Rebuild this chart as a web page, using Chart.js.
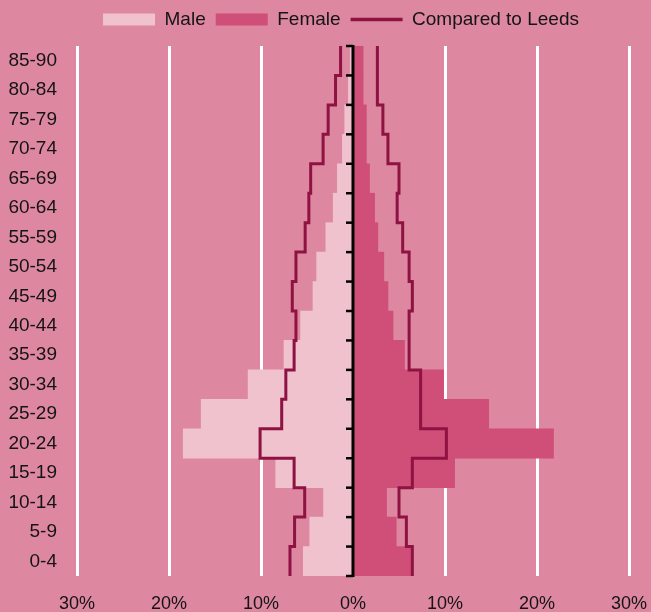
<!DOCTYPE html>
<html><head><meta charset="utf-8">
<script src="https://cdn.jsdelivr.net/npm/chart.js@4"></script>
<style>html,body{margin:0;padding:0;background:#DE87A0;} #wrap{width:651px;height:612px;position:relative;}</style>
</head><body><div id="wrap"><canvas id="c"></canvas></div>
<script>
const ageGroups = ['0-4','5-9','10-14','15-19','20-24','25-29','30-34','35-39','40-44','45-49','50-54','55-59','60-64','65-69','70-74','75-79','80-84','85-90'];
const malePct = [5.4, 4.7, 3.2, 8.4, 18.45, 16.5, 11.4, 7.5, 5.7, 4.35, 3.95, 2.95, 2.15, 1.7, 1.15, 0.9, 0.5, 0.3];
const femalePct = [6.45, 4.7, 3.65, 11.05, 21.8, 14.75, 9.85, 5.6, 4.35, 3.8, 3.35, 2.7, 2.35, 1.8, 1.45, 1.45, 1.1, 1.1];
const leedsMalePct = [6.85, 6.35, 5.25, 6.4, 10.1, 7.75, 7.3, 6.4, 6.2, 6.6, 6.2, 5.2, 4.8, 4.6, 3.25, 2.7, 1.9, 1.35];
const leedsFemalePct = [6.45, 5.8, 5.0, 6.45, 10.15, 7.35, 7.35, 6.1, 6.1, 6.45, 6.1, 5.4, 4.8, 5.0, 3.8, 3.25, 2.65, 2.65];
const xMin = -30, xMax = 30, xStep = 10;

const C_MALE = '#F0C2CE', C_FEMALE = '#CF4F79', C_LINE = '#8E1242', C_TEXT = '#141414';
const FONT = "'Liberation Sans', Arial, sans-serif";

function stepPoints(values, sign) {
  const pts = [];
  values.forEach((v, i) => { pts.push({x: sign * v, y: i - 0.5}); pts.push({x: sign * v, y: i + 0.5}); });
  return pts;
}

const centerAxis = {
  id: 'centerAxis',
  afterLayout(chart) {
    if (chart.legend) { chart.legend.left -= 24; }
  },
  afterDatasetsDraw(chart) {
    const {ctx, chartArea, scales} = chart;
    const x0 = scales.x.getPixelForValue(0);
    ctx.save();
    ctx.strokeStyle = '#000';
    ctx.lineWidth = 3;
    ctx.beginPath(); ctx.moveTo(x0, chartArea.top - 1); ctx.lineTo(x0, chartArea.bottom + 1); ctx.stroke();
    ctx.lineWidth = 2.5;
    for (let k = 0; k <= ageGroups.length; k++) {
      const y = scales.yl.getPixelForValue(k - 0.5);
      ctx.beginPath(); ctx.moveTo(x0 - 7, y); ctx.lineTo(x0, y); ctx.stroke();
    }
    ctx.restore();
  }
};

new Chart(document.getElementById('c'), {
  type: 'bar',
  data: {
    labels: ageGroups,
    datasets: [
      {label: 'Compared to Leeds', type: 'line', data: stepPoints(leedsMalePct, -1), xAxisID: 'x', yAxisID: 'yl',
       borderColor: C_LINE, backgroundColor: C_LINE, borderWidth: 3, pointRadius: 0, fill: false, tension: 0, borderJoinStyle: 'miter', order: 0},
      {label: 'Compared to Leeds (F)', type: 'line', data: stepPoints(leedsFemalePct, 1), xAxisID: 'x', yAxisID: 'yl',
       borderColor: C_LINE, backgroundColor: C_LINE, borderWidth: 3, pointRadius: 0, fill: false, tension: 0, borderJoinStyle: 'miter', order: 0},
      {label: 'Male', data: malePct.map(v => -v), backgroundColor: C_MALE, borderWidth: 0, grouped: false,
       barPercentage: 1, categoryPercentage: 1, xAxisID: 'x', yAxisID: 'y', order: 1},
      {label: 'Female', data: femalePct, backgroundColor: C_FEMALE, borderWidth: 0, grouped: false,
       barPercentage: 1, categoryPercentage: 1, xAxisID: 'x', yAxisID: 'y', order: 1}
    ]
  },
  options: {
    indexAxis: 'y',
    responsive: true,
    maintainAspectRatio: false,
    animation: false,
    layout: {padding: {left: 0, right: 22, top: 0, bottom: 0}},
    scales: {
      y: {type: 'category', axis: 'y', position: 'left', reverse: true, offset: true,
          grid: {display: false, drawTicks: false}, border: {display: false},
          ticks: {color: C_TEXT, font: {family: FONT, size: 19}, padding: 20},
          afterFit: s => { s.width = 77; }},
      yl: {type: 'linear', axis: 'y', position: 'left', display: false, offset: false, bounds: 'data',
           min: -0.5, max: ageGroups.length - 0.5},
      x: {type: 'linear', min: xMin, max: xMax, offset: false,
          grid: {color: c => (c.tick && c.tick.value === 0) ? 'rgba(0,0,0,0)' : '#ffffff', lineWidth: 3,
                 drawTicks: true, tickLength: 16, tickColor: 'rgba(0,0,0,0)'},
          border: {display: false},
          ticks: {stepSize: xStep, color: C_TEXT, font: {family: FONT, size: 18}, padding: 1,
                  callback: v => Math.abs(v) + '%'},
          afterFit: s => { s.height = 36; }}
    },
    plugins: {
      tooltip: {enabled: false},
      title: {display: true, text: '', weight: 500, padding: 0, font: {size: 7, lineHeight: 1}},
      legend: {
        position: 'top',
        fullSize: false,
        labels: {
          usePointStyle: true, pointStyleWidth: 52, boxHeight: 12, padding: 10,
          color: C_TEXT, font: {family: FONT, size: 19},
          generateLabels: () => [
            {text: 'Male', fillStyle: C_MALE, strokeStyle: C_MALE, lineWidth: 0, pointStyle: 'rect', fontColor: C_TEXT, hidden: false, datasetIndex: 2},
            {text: 'Female', fillStyle: C_FEMALE, strokeStyle: C_FEMALE, lineWidth: 0, pointStyle: 'rect', fontColor: C_TEXT, hidden: false, datasetIndex: 3},
            {text: 'Compared to Leeds', fillStyle: C_LINE, strokeStyle: C_LINE, lineWidth: 3.5, pointStyle: 'line', fontColor: C_TEXT, hidden: false, datasetIndex: 0}
          ]
        }
      }
    }
  },
  plugins: [centerAxis]
});
</script>
</body></html>
